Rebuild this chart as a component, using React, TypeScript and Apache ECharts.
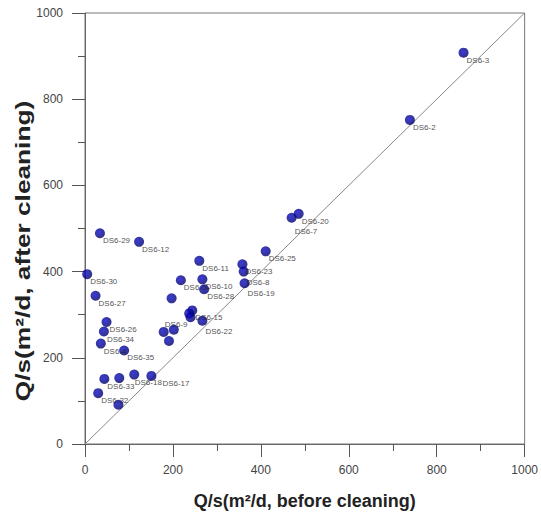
import React, { useEffect, useRef } from "react";
import * as echarts from "echarts";

const pointNames = [
  "DS6-3", "DS6-2", "DS6-20", "DS6-7", "DS6-25", "DS6-23", "DS6-8", "DS6-19",
  "DS6-11", "DS6-10", "DS6-28", "DS6-6", "", "DS6-29", "DS6-12", "DS6-30",
  "DS6-27", "DS6-26", "DS6-34", "DS6-4", "DS6-35", "", "", "",
  "DS6-33", "", "DS6-18", "DS6-17", "DS6-32", "", "DS6-15", "",
  "DS6-9", "DS6-22",
];
const beforeCleaning = [
  861, 739, 486, 470, 411, 358, 361, 363,
  260, 267, 271, 218, 197, 34, 123, 5,
  24, 49, 43, 36, 89, 179, 202, 191,
  44, 78, 112, 151, 30, 76, 244, 237,
  240, 267,
];
const afterCleaning = [
  908, 752, 534, 525, 447, 417, 400, 373,
  425, 382, 359, 380, 338, 489, 469, 394,
  344, 283, 261, 233, 217, 260, 265, 239,
  151, 153, 161, 158, 118, 91, 310, 303,
  294, 286,
];
const axisTicks = [0, 200, 400, 600, 800, 1000];
const diagonal = [[0, 0], [1000, 1000]];

export default function App() {
  const ref = useRef<HTMLDivElement>(null);
  useEffect(() => {
    if (!ref.current) return;
    const chart = echarts.init(ref.current, undefined, { renderer: "svg" });
    const labelNudges: Record<string, any> = {
      "DS6-7": { position: [8, 14.5] },
      "DS6-8": { position: [8, 11.5] },
      "DS6-19": { position: [8, 11] },
      "DS6-18": { position: [5.5, 8.5] },
      "DS6-17": { position: [16, 8.5] },
      "DS6-9": { position: [2, 8.5], align: "right" },
      "DS6-22": { position: [8, 11.5] },
    };
    const data = pointNames.map((n, i) => {
      const item: any = { name: n, value: [beforeCleaning[i], afterCleaning[i]] };
      if (labelNudges[n]) item.label = labelNudges[n];
      return item;
    });
    const font = "Arial, 'Liberation Sans', sans-serif";
    const axisCommon = {
      type: "value",
      min: axisTicks[0],
      max: axisTicks[axisTicks.length - 1],
      interval: 200,
      splitLine: { show: false },
      axisLine: { show: true, lineStyle: { color: "#666", width: 1 } },
      axisTick: { show: true, inside: false, length: 13, lineStyle: { color: "#555", width: 1 } },
      minorTick: { show: true, splitNumber: 2, length: 7, lineStyle: { color: "#555", width: 1 } },
    };
    chart.setOption({
      animation: false,
      backgroundColor: "#fff",
      grid: { left: 85, right: 16, top: 13, bottom: 66, show: true, borderColor: "#777", borderWidth: 1 },
      xAxis: {
        ...axisCommon,
        axisLabel: { margin: 20, fontSize: 12, color: "#444", fontFamily: font, formatter: (v: number) => String(v) },
        name: "Q/s(m²/d, before cleaning)",
        nameLocation: "middle",
        nameGap: 48,
        nameTextStyle: { fontSize: 18, fontWeight: "bold", color: "#222", fontFamily: font },
      },
      yAxis: {
        ...axisCommon,
        axisLabel: { margin: 22, fontSize: 12, color: "#444", fontFamily: font, formatter: (v: number) => String(v) },
      },
      graphic: [
        {
          type: "text",
          x: 22,
          y: 251,
          rotation: Math.PI / 2,
          scaleX: 1.25,
          style: {
            text: "Q/s(m²/d, after cleaning)",
            font: "bold 21px Arial, 'Liberation Sans', sans-serif",
            fill: "#222",
            align: "center",
            verticalAlign: "middle",
          },
        },
      ],
      series: [
        {
          type: "line",
          data: diagonal,
          symbol: "none",
          silent: true,
          lineStyle: { color: "#888", width: 1 },
          z: 1,
        },
        {
          type: "scatter",
          data,
          symbolSize: 10,
          z: 3,
          itemStyle: {
            color: {
              type: "radial", x: 0.4, y: 0.4, r: 0.6,
              colorStops: [
                { offset: 0, color: "#0a0ad0" },
                { offset: 1, color: "#000068" },
              ],
            },
          },
          label: {
            show: true,
            formatter: (p: any) => p.name,
            position: [8, 8.5],
            align: "left",
            verticalAlign: "top",
            fontSize: 8,
            color: "#222",
            fontFamily: font,
          },
        },
      ],
    });
    return () => chart.dispose();
  }, []);
  return <div ref={ref} style={{ position: "absolute", left: 0, top: 0, width: 541, height: 515 }} />;
}
